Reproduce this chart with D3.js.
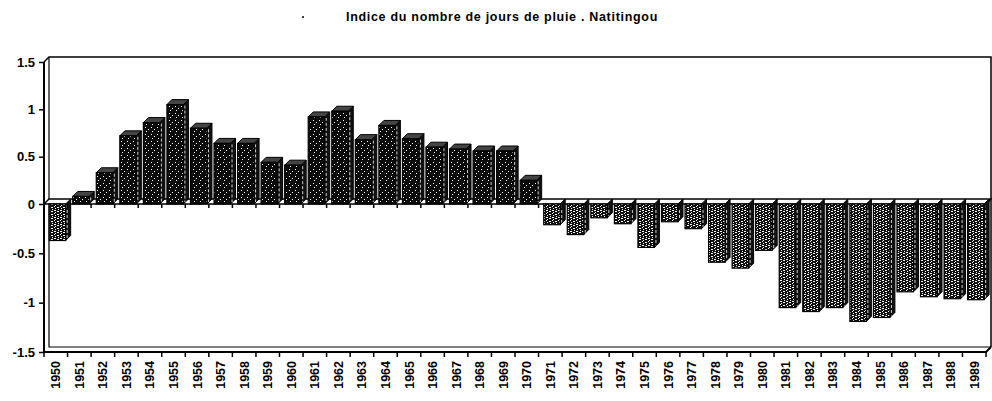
<!DOCTYPE html>
<html>
<head>
<meta charset="utf-8">
<script src="https://cdn.jsdelivr.net/npm/d3@7"></script>
<style>
  body { margin: 0; background: #fff; }
  svg { display: block; font-family: "Liberation Sans", Arial, sans-serif; }
  .lbl { font-weight: bold; fill: #000; }
</style>
</head>
<body>
<svg id="chart" width="992" height="401"></svg>
<script>
/*jshint esversion: 6 */

var years = d3.range(1950, 1990).map(String);

var indices = [
  -0.37, 0.08, 0.33, 0.72, 0.86, 1.05, 0.80, 0.64, 0.64, 0.44,
  0.41, 0.92, 0.98, 0.68, 0.83, 0.69, 0.60, 0.58, 0.56, 0.56,
  0.25, -0.21, -0.31, -0.14, -0.20, -0.44, -0.18, -0.25, -0.59, -0.65,
  -0.47, -1.05, -1.09, -1.05, -1.19, -1.15, -0.89, -0.94, -0.96, -0.97
];

var yTicks = [1.5, 1, 0.5, 0, -0.5, -1, -1.5];
var yTickLabels = ["1.5", "1", "0.5", "0", "-0.5", "-1", "-1.5"];

var title = "Indice du nombre de jours de pluie . Natitingou";

var svg = d3.select("#chart");
var depth = 5;

var x = d3.scaleBand().domain(years).range([44, 986]);
// the scan is slightly stretched below zero, so the scale is piecewise
var y = d3.scaleLinear().domain([-1.5, 0, 1.5]).range([352, 204, 62]);

// speckled fills, a bit lighter for the dry years
var defs = svg.append("defs");
function speckle(id, bg, dots) {
  var p = defs.append("pattern").attr("id", id)
    .attr("width", 6).attr("height", 7)
    .attr("patternUnits", "userSpaceOnUse");
  p.append("rect").attr("width", 6).attr("height", 7).attr("fill", bg);
  dots.forEach(function(d) {
    p.append("rect").attr("x", d[0]).attr("y", d[1])
      .attr("width", d[2]).attr("height", 1).attr("fill", "#fff");
  });
}
speckle("pos", "#0c0c0c", [[1, 1, 1], [4, 3, 1], [2, 5, 1]]);
speckle("neg", "#111", [[0, 0, 2], [3, 1, 2], [1, 2, 1], [0, 3, 1], [3, 4, 2], [1, 5, 1], [4, 6, 1]]);

svg.append("text").attr("class", "lbl")
  .attr("x", 502).attr("y", 21)
  .attr("text-anchor", "middle")
  .attr("font-size", 12.5)
  .attr("letter-spacing", 0.7)
  .text(title);
svg.append("circle").attr("cx", 303).attr("cy", 17).attr("r", 1).attr("fill", "#000");

// back walls and floor of the 3d box
var x0 = x.range()[0], x1 = x.range()[1];
var yTop = y(1.5), yBot = y(-1.5);
var frame = svg.append("g").attr("fill", "none").attr("stroke", "#000");
frame.append("path").attr("stroke-width", 1.5)
  .attr("d", `M${x0},${yTop} L${x0 + depth},${yTop - depth} L${x1 + depth},${yTop - depth} L${x1 + depth},${yBot - depth}`);
frame.append("path").attr("stroke-width", 1.2)
  .attr("d", `M${x0 + depth},${yTop - depth} L${x0 + depth},${yBot - depth} L${x1 + depth},${yBot - depth}`);

// floor slab at zero
svg.append("path")
  .attr("fill", "#fff").attr("stroke", "#000").attr("stroke-width", 1.5)
  .attr("d", `M${x0},${y(0)} L${x0 + depth},${y(0) - depth} L${x1 + depth},${y(0) - depth} L${x1},${y(0)} Z`);

// bars
var bw = x.bandwidth();
var fw = bw * 0.7;
var off = bw * 0.22;
var bars = svg.append("g").selectAll("g.bar")
  .data(years.map(function(yr, i) { return { year: yr, v: indices[i] }; }))
  .enter().append("g").attr("class", "bar");

bars.each(function(d) {
  var g = d3.select(this);
  var bx = x(d.year) + off;
  var yv = y(d.v), y0 = y(0);
  var fill = d.v >= 0 ? "url(#pos)" : "url(#neg)";
  var t = Math.min(yv, y0), b = Math.max(yv, y0);
  // side face
  g.append("path")
    .attr("fill", "#111").attr("stroke", "#000").attr("stroke-width", 1)
    .attr("d", `M${bx + fw},${t} L${bx + fw + depth},${t - depth} L${bx + fw + depth},${b - depth} L${bx + fw},${b} Z`);
  // top face
  if (d.v >= 0) {
    g.append("path")
      .attr("fill", "#444").attr("stroke", "#000").attr("stroke-width", 1)
      .attr("d", `M${bx},${yv} L${bx + depth},${yv - depth} L${bx + fw + depth},${yv - depth} L${bx + fw},${yv} Z`);
  }
  g.append("rect")
    .attr("x", bx).attr("y", t)
    .attr("width", fw).attr("height", b - t)
    .attr("fill", fill).attr("stroke", "#000").attr("stroke-width", 1.2);
  // light edge between front and side
  g.append("line")
    .attr("x1", bx + fw + 1.5).attr("x2", bx + fw + 1.5)
    .attr("y1", t + 1).attr("y2", b - 2)
    .attr("stroke", "#fff").attr("stroke-width", 0.8).attr("stroke-dasharray", "3,2");
});

// front edges of the box, drawn over the bars
svg.append("path").attr("fill", "none").attr("stroke", "#000").attr("stroke-width", 2)
  .attr("d", `M${x0},${yTop} L${x0},${yBot} L${x1},${yBot} L${x1 + depth},${yBot - depth}`);

// tick marks on the zero line and under the box
var bounds = years.map(function(yr) { return x(yr); }).concat([x1]);
svg.append("g").selectAll("line").data(bounds).enter().append("line")
  .attr("x1", function(d) { return d; }).attr("x2", function(d) { return d; })
  .attr("y1", y(0)).attr("y2", y(0) + 4)
  .attr("stroke", "#000").attr("stroke-width", 1.5);

var gx = svg.append("g").attr("transform", `translate(0,${yBot})`);
gx.selectAll("line.bt").data(bounds).enter().append("line").attr("class", "bt")
  .attr("x1", function(d) { return d; }).attr("x2", function(d) { return d; })
  .attr("y1", 0).attr("y2", 5)
  .attr("stroke", "#000").attr("stroke-width", 1.5);
gx.selectAll("text.yr").data(years).enter().append("text")
  .attr("class", "lbl yr")
  .attr("font-size", 12.5)
  .attr("text-anchor", "end")
  .attr("transform", function(d) { return `translate(${x(d) + bw / 2},9) rotate(-90)`; })
  .attr("dy", "0.36em")
  .text(function(d) { return d; });

var yAxis = d3.axisLeft(y).tickValues(yTicks).tickSize(5).tickPadding(4)
  .tickFormat(function(d, i) { return yTickLabels[i]; });
var gy = svg.append("g").attr("transform", `translate(${x0},0)`).call(yAxis);
gy.select(".domain").remove();
gy.selectAll(".tick line").attr("stroke", "#000").attr("stroke-width", 1.5);
gy.selectAll(".tick text").attr("class", "lbl")
  .attr("font-size", 13).attr("font-family", "Liberation Sans, Arial, sans-serif");
</script>
</body>
</html>
